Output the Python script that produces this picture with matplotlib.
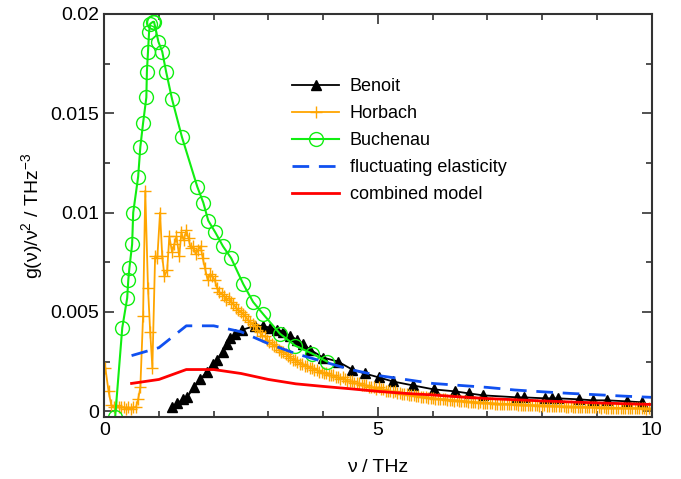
import numpy as np
import matplotlib
matplotlib.use("Agg")
import matplotlib.pyplot as plt
from matplotlib.ticker import MultipleLocator

plt.rcParams['font.family'] = ['Liberation Sans', 'DejaVu Sans']
plt.rcParams['mathtext.fontset'] = 'custom'
plt.rcParams['mathtext.rm'] = 'Liberation Sans'
plt.rcParams['mathtext.it'] = 'Liberation Sans:italic'

# Benoit (triangles)
benoit_nu = [1.24, 1.33, 1.44, 1.51, 1.64, 1.75, 1.88, 1.99, 2.06, 2.17, 2.24, 2.30,
             2.39, 2.52, 2.76, 2.90, 3.03, 3.16, 3.27, 3.39, 3.52, 3.63, 3.76, 4.00,
             4.27, 4.53, 4.76, 5.02, 5.27, 5.64, 6.02, 6.41, 6.66, 6.92, 7.54, 7.66,
             8.05, 8.18, 8.28, 8.67, 8.92, 9.18, 9.54, 9.82]
benoit_g = [0.0002, 0.0004, 0.0006, 0.0007, 0.0012, 0.0016, 0.0020, 0.0024, 0.0026, 0.0030,
            0.0034, 0.0037, 0.0039, 0.0041, 0.0043, 0.0043, 0.0042, 0.0041, 0.0040, 0.0038,
            0.0036, 0.0034, 0.0031, 0.0027, 0.0025, 0.0021, 0.0019, 0.0017, 0.0015, 0.0013,
            0.0011, 0.0010, 0.0009, 0.0008, 0.0007, 0.0007, 0.00065, 0.00065, 0.00065, 0.0006,
            0.00055, 0.00055, 0.0005, 0.00045]

# Horbach (plus signs)
horbach_nu = [0.02, 0.08, 0.13, 0.18, 0.22, 0.27, 0.31, 0.36, 0.40, 0.44, 0.49, 0.53,
              0.58, 0.62, 0.66, 0.71, 0.75, 0.80, 0.84, 0.88, 0.93, 0.97, 1.02, 1.06,
              1.10, 1.15, 1.19, 1.24, 1.28, 1.32, 1.37, 1.41, 1.45, 1.50, 1.54, 1.58,
              1.63, 1.67, 1.71, 1.76, 1.80, 1.84, 1.89, 1.93, 1.97, 2.02, 2.06, 2.10,
              2.15, 2.19, 2.23, 2.28, 2.32, 2.36, 2.41, 2.45, 2.49, 2.54, 2.58, 2.62,
              2.67, 2.71, 2.75, 2.80, 2.84, 2.88, 2.93, 2.97, 3.01, 3.06, 3.10, 3.14,
              3.19, 3.23, 3.27, 3.32, 3.36, 3.40, 3.45, 3.49, 3.53, 3.58, 3.62, 3.66,
              3.71, 3.75, 3.79, 3.84, 3.88, 3.92, 3.97, 4.01, 4.05, 4.10, 4.14, 4.18,
              4.23, 4.27, 4.31, 4.36, 4.40, 4.44, 4.49, 4.53, 4.57, 4.62, 4.66, 4.70,
              4.75, 4.79, 4.83, 4.88, 4.92, 4.96, 5.01, 5.05, 5.09, 5.14, 5.18, 5.22,
              5.27, 5.31, 5.35, 5.40, 5.44, 5.48, 5.53, 5.57, 5.61, 5.66, 5.70, 5.74,
              5.79, 5.83, 5.87, 5.92, 5.96, 6.00, 6.05, 6.09, 6.13, 6.18, 6.22, 6.26,
              6.31, 6.35, 6.39, 6.44, 6.48, 6.52, 6.57, 6.61, 6.65, 6.70, 6.74, 6.78,
              6.83, 6.87, 6.91, 6.96, 7.00, 7.04, 7.09, 7.13, 7.17, 7.22, 7.26, 7.30,
              7.35, 7.39, 7.43, 7.48, 7.52, 7.56, 7.61, 7.65, 7.69, 7.74, 7.78, 7.82,
              7.87, 7.91, 7.95, 8.00, 8.04, 8.08, 8.13, 8.17, 8.21, 8.26, 8.30, 8.34,
              8.39, 8.43, 8.47, 8.52, 8.56, 8.60, 8.65, 8.69, 8.73, 8.78, 8.82, 8.86,
              8.91, 8.95, 8.99, 9.04, 9.08, 9.12, 9.17, 9.21, 9.25, 9.30, 9.34, 9.38,
              9.43, 9.47, 9.51, 9.56, 9.60, 9.64, 9.69, 9.73, 9.77, 9.82, 9.86, 9.90,
              9.95, 9.99]
horbach_g = [0.0022, 0.0010, 0.0003, 0.0002, 0.0003, 0.0002, 0.0002, 0.0002, 0.0001, 0.0002,
             0.0001, 0.0002, 0.0002, 0.0006, 0.0012, 0.0048, 0.0111, 0.0062, 0.0040, 0.0022,
             0.0078, 0.0077, 0.0100, 0.0078, 0.0068, 0.0071, 0.0088, 0.0080, 0.0084, 0.0088,
             0.0078, 0.0090, 0.0086, 0.0091, 0.0087, 0.0082, 0.0083, 0.0079, 0.0081, 0.0083,
             0.0077, 0.0072, 0.0066, 0.0069, 0.0068, 0.0066, 0.0062, 0.0060, 0.0059, 0.0058,
             0.0056, 0.0057, 0.0055, 0.0054, 0.0052, 0.0051, 0.0050, 0.0049, 0.0048, 0.0046,
             0.0045, 0.0044, 0.0043, 0.0041, 0.0040, 0.0038, 0.0038, 0.0036, 0.0035, 0.0034,
             0.0033, 0.0033, 0.0031, 0.0030, 0.0030, 0.0029, 0.0028, 0.0027, 0.0026, 0.0026,
             0.0025, 0.0024, 0.0024, 0.0023, 0.0023, 0.0022, 0.0022, 0.0021, 0.0021, 0.0020,
             0.0020, 0.0019, 0.0019, 0.0018, 0.0018, 0.0018, 0.0017, 0.0017, 0.0016, 0.0017,
             0.0016, 0.0015, 0.0015, 0.0015, 0.0014, 0.0014, 0.0014, 0.0013, 0.0013, 0.0013,
             0.0012, 0.0012, 0.0012, 0.0011, 0.0012, 0.0011, 0.0011, 0.0010, 0.0010, 0.0010,
             0.00095, 0.0010, 0.00092, 0.00090, 0.00088, 0.00085, 0.00086, 0.00082, 0.00080, 0.00080,
             0.00076, 0.00075, 0.00074, 0.00071, 0.00072, 0.00068, 0.00067, 0.00066, 0.00064, 0.00063,
             0.00062, 0.00060, 0.00061, 0.00058, 0.00057, 0.00056, 0.00054, 0.00055, 0.00052, 0.00051,
             0.00050, 0.00050, 0.00048, 0.00047, 0.00047, 0.00045, 0.00044, 0.00045, 0.00043, 0.00042,
             0.00041, 0.00041, 0.00040, 0.00039, 0.00039, 0.00038, 0.00037, 0.00038, 0.00036, 0.00035,
             0.00035, 0.00034, 0.00034, 0.00033, 0.00033, 0.00032, 0.00031, 0.00032, 0.00030, 0.00030,
             0.00029, 0.00029, 0.00028, 0.00028, 0.00029, 0.00027, 0.00026, 0.00027, 0.00026, 0.00025,
             0.00025, 0.00024, 0.00025, 0.00023, 0.00023, 0.00024, 0.00022, 0.00022, 0.00023, 0.00021,
             0.00021, 0.00022, 0.00020, 0.00020, 0.00021, 0.00019, 0.00020, 0.00019, 0.00018, 0.00019,
             0.00018, 0.00018, 0.00017, 0.00018, 0.00017, 0.00016, 0.00017, 0.00016, 0.00016, 0.00015,
             0.00016, 0.00015, 0.00015, 0.00014, 0.00015, 0.00014, 0.00014, 0.00013, 0.00014, 0.00013]

# Buchenau (open circles)
buchenau_nu = [0.20, 0.33, 0.42, 0.44, 0.46, 0.51, 0.53, 0.62, 0.66, 0.71, 0.77, 0.78,
               0.80, 0.82, 0.84, 0.89, 0.91, 0.99, 1.06, 1.13, 1.24, 1.42, 1.70, 1.81,
               1.90, 2.03, 2.17, 2.32, 2.54, 2.72, 2.90, 3.21, 3.49, 3.80, 4.07]
buchenau_g = [-0.0003, 0.0042, 0.0057, 0.0066, 0.0072, 0.0084, 0.0100, 0.0118, 0.0133, 0.0145,
              0.0158, 0.0171, 0.0181, 0.0191, 0.0195, 0.0196, 0.0196, 0.0186, 0.0181, 0.0171,
              0.0157, 0.0138, 0.0113, 0.0105, 0.0096, 0.0090, 0.0083, 0.0077, 0.0064, 0.0055,
              0.0049, 0.0039, 0.0033, 0.0029, 0.0025]

# models
model_nu = [0.5, 1.0, 1.5, 2.0, 2.5, 3.0, 3.5, 4.0, 4.5, 5.0, 5.5, 6.0, 6.5, 7.0,
            7.5, 8.0, 8.5, 9.0, 9.5, 10.0]
fluct_g = [0.0028, 0.0032, 0.0043, 0.0043, 0.0040, 0.0034, 0.0029, 0.0025, 0.0021, 0.0018,
           0.0016, 0.0014, 0.0013, 0.0012, 0.00107, 0.00098, 0.0009, 0.00083, 0.00076, 0.0007]
combined_g = [0.0014, 0.0016, 0.0021, 0.0021, 0.0019, 0.0016, 0.00138, 0.00125, 0.00113, 0.0010,
              0.0009, 0.00082, 0.00072, 0.00064, 0.00058, 0.00052, 0.00047, 0.00042, 0.00038, 0.00034]

fig = plt.figure(figsize=(6.81, 4.79), dpi=100)
ax = fig.add_axes([0.153, 0.129, 0.804, 0.842])

ax.plot(benoit_nu, benoit_g, color='black', marker='^', markersize=7, lw=1.3,
        label='Benoit')
ax.plot(horbach_nu, horbach_g, color='orange', marker='+', markersize=8, lw=1.3,
        mew=1.0, label='Horbach')
ax.plot(buchenau_nu, buchenau_g, color='#11EE11', marker='o', markersize=10, lw=1.5,
        mfc='none', mew=1.0, label='Buchenau')
ax.plot(model_nu, fluct_g, color='#1050F0', lw=2, dashes=(6, 3.5),
        label='fluctuating elasticity')
ax.plot(model_nu, combined_g, color='red', lw=2, label='combined model')

ax.set_xlim(0, 10)
ax.set_ylim(-0.0003, 0.02)
ax.xaxis.set_major_locator(MultipleLocator(5))
ax.xaxis.set_minor_locator(MultipleLocator(1))
ax.yaxis.set_major_locator(MultipleLocator(0.005))
ax.yaxis.set_minor_locator(MultipleLocator(0.0025))
ax.set_yticks([0, 0.005, 0.01, 0.015, 0.02])
ax.set_yticklabels(['0', '0.005', '0.01', '0.015', '0.02'])
ax.tick_params(which='both', direction='in', top=True, right=True, labelsize=14,
               width=1.2, color='#333333')
ax.tick_params(which='major', length=7)
ax.tick_params(which='minor', length=4)
for s in ax.spines.values():
    s.set_linewidth(1.5)
    s.set_color('#333333')

ax.set_xlabel('ν / THz', fontsize=14, labelpad=14)
ax.set_ylabel('g(ν)/ν$^2$ / THz$^{-3}$', fontsize=14, labelpad=4)

ax.legend(loc='upper left', bbox_to_anchor=(0.33, 0.858), frameon=False, fontsize=13,
          handlelength=2.6, handletextpad=0.6, labelspacing=0.55, borderaxespad=0)

fig.savefig('out.png', dpi=100)
